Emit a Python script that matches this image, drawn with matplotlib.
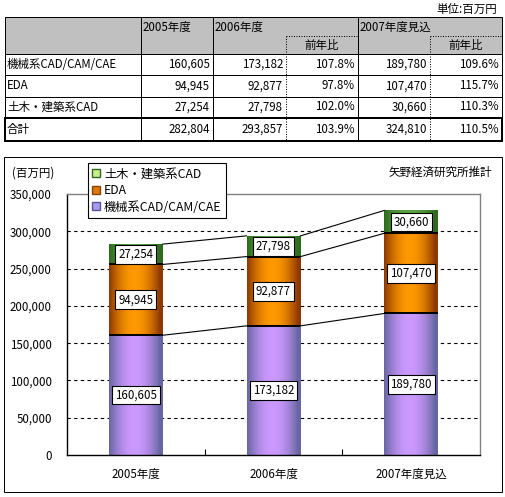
import matplotlib
matplotlib.use("Agg")
import matplotlib.pyplot as plt
from matplotlib.patches import Rectangle, Patch
import numpy as np

plt.rcParams['font.family'] = ['Noto Sans CJK JP', 'DejaVu Sans']

# data
years = ["2005年度", "2006年度", "2007年度見込"]
segments = ["機械系CAD/CAM/CAE", "EDA", "土木・建築系CAD"]
v2005 = [160605, 94945, 27254]
v2006 = [173182, 92877, 27798]
v2007 = [189780, 107470, 30660]
tot = [282804, 293857, 324810]
yoy2006 = ["107.8%", "97.8%", "102.0%", "103.9%"]
yoy2007 = ["109.6%", "115.7%", "110.3%", "110.5%"]

W, H = 506, 497
fig = plt.figure(figsize=(W / 100, H / 100), dpi=100)
fig.patch.set_facecolor("white")

# ---- table (drawn in pixel coords) ----
tax = fig.add_axes([0, 0, 1, 1])
tax.set_xlim(0, W)
tax.set_ylim(H, 0)
tax.axis("off")

cx = [5, 141, 213, 286, 358, 430, 502]
ry = [17, 36, 54, 75, 96.5, 117.5, 141]
fs = 8.3
px = 0.72

tax.add_patch(Rectangle((cx[0], ry[0]), cx[-1] - cx[0], ry[2] - ry[0], fc="#c0c0c0", ec="none"))
tax.add_patch(Rectangle((cx[0], ry[0]), cx[-1] - cx[0], ry[-1] - ry[0], fc="none", ec="black", lw=px))
for y in ry[2:-1]:
    tax.plot([cx[0], cx[-1]], [y, y], color="black", lw=px)
for x in [cx[1], cx[2], cx[4]]:
    tax.plot([x, x], [ry[0], ry[-1]], color="black", lw=px)
for x in [cx[3], cx[5]]:
    tax.plot([x, x], [ry[1], ry[-1]], color="black", lw=px, ls=(0, (1, 1.5)))
tax.plot([cx[3], cx[4]], [ry[1], ry[1]], color="black", lw=px, ls=(0, (1, 1.5)))
tax.plot([cx[5], cx[6]], [ry[1], ry[1]], color="black", lw=px, ls=(0, (1, 1.5)))
tax.add_patch(Rectangle((cx[0], ry[5]), cx[-1] - cx[0], ry[6] - ry[5], fc="none", ec="black", lw=2 * px))

tax.text(497, 9, "単位:百万円", ha="right", va="center", fontsize=fs)
tax.text(cx[1] + 2, 27, years[0], ha="left", va="center", fontsize=fs)
tax.text(cx[2] + 2, 27, years[1], ha="left", va="center", fontsize=fs)
tax.text(cx[4] + 2, 27, years[2], ha="left", va="center", fontsize=fs)
tax.text((cx[3] + cx[4]) / 2, 45, "前年比", ha="center", va="center", fontsize=fs)
tax.text((cx[5] + cx[6]) / 2, 45, "前年比", ha="center", va="center", fontsize=fs)

row_names = segments + ["合計"]
c05 = v2005 + [tot[0]]
c06 = v2006 + [tot[1]]
c07 = v2007 + [tot[2]]
for i in range(4):
    yc = (ry[i + 2] + ry[i + 3]) / 2
    tax.text(cx[0] + 2, yc, row_names[i], ha="left", va="center", fontsize=fs)
    tax.text(cx[2] - 3, yc, f"{c05[i]:,}", ha="right", va="center", fontsize=fs)
    tax.text(cx[3] - 3, yc, f"{c06[i]:,}", ha="right", va="center", fontsize=fs)
    tax.text(cx[4] - 3, yc, yoy2006[i], ha="right", va="center", fontsize=fs)
    tax.text(cx[5] - 3, yc, f"{c07[i]:,}", ha="right", va="center", fontsize=fs)
    tax.text(cx[6] - 3, yc, yoy2007[i], ha="right", va="center", fontsize=fs)

# chart frame
tax.add_patch(Rectangle((4, 157), 498, 335, fc="none", ec="black", lw=px))
tax.text(12, 173, "(百万円)", ha="left", va="center", fontsize=fs)
tax.text(492, 172, "矢野経済研究所推計", ha="right", va="center", fontsize=fs)

# ---- chart ----
ax = fig.add_axes([67 / W, 1 - 455 / H, 413 / W, 261 / H])
x = np.arange(len(years))
bw = 0.392
data = np.array([v2005, v2006, v2007]).T  # rows: segment

edge_cols = [(0.40, 0.40, 0.63), (0.55, 0.22, 0.0), (0.18, 0.42, 0.12)]
mid_cols = [(0.80, 0.60, 1.0), (1.0, 0.60, 0.0), (0.36, 0.64, 0.26)]

t = np.linspace(0, 1, 64)
wgt = np.sin(np.pi * np.clip(t * 1.05, 0, 1)) ** 0.9

bottom = np.zeros(3)
for s in range(3):
    bars = ax.bar(x, data[s], bw, bottom=bottom, color=mid_cols[s], edgecolor="none", zorder=2)
    grad = np.array([[np.array(edge_cols[s]) + (np.array(mid_cols[s]) - np.array(edge_cols[s])) * w for w in wgt]])
    for b in bars:
        im = ax.imshow(grad, extent=[b.get_x(), b.get_x() + b.get_width(), b.get_y(), b.get_y() + b.get_height()],
                       aspect="auto", zorder=2.5, interpolation="bilinear")
        im.set_clip_path(b)
    top = bottom + data[s]
    if s < 2:
        ax.hlines(top, x - bw / 2, x + bw / 2, color="black", lw=1.4, zorder=3)
    for i in range(2):
        ax.plot([x[i] + bw / 2, x[i + 1] - bw / 2], [top[i], top[i + 1]], color="black", lw=0.8, zorder=3)
    for i in range(3):
        ax.text(x[i], bottom[i] + data[s][i] / 2, f"{data[s][i]:,}", ha="center", va="center", fontsize=fs,
                zorder=4, bbox=dict(boxstyle="square,pad=0.25", fc="white", ec="black", lw=0.8))
    bottom = top

ax.set_xlim(-0.5, 2.5)
ax.set_ylim(0, 350000)
ax.set_yticks(np.arange(0, 350001, 50000))
ax.set_yticklabels([f"{v:,}" for v in range(0, 350001, 50000)], fontsize=fs)
ax.set_xticks(x)
ax.set_xticklabels(years, fontsize=fs)
ax.set_xticks([0.5, 1.5], minor=True)
ax.tick_params(axis="x", which="major", length=0, pad=9)
ax.tick_params(axis="x", which="minor", length=4, direction="in", width=0.8)
ax.tick_params(axis="y", length=0, pad=11)
ax.set_axisbelow(True)
ax.yaxis.grid(True, color="black", lw=0.8, ls=(0, (3, 3)))
ax.get_ygridlines()[-1].set_visible(False)
ax.get_ygridlines()[0].set_visible(False)
for sp in ["left", "bottom"]:
    ax.spines[sp].set_color("black")
    ax.spines[sp].set_linewidth(1)
for sp in ["top", "right"]:
    ax.spines[sp].set_color("#808080")
    ax.spines[sp].set_linewidth(1)

handles = [Patch(fc="#ccee88", ec="#336622", lw=1),
           Patch(fc="#dd7711", ec="#884400", lw=1),
           Patch(fc="#aa99ee", ec="#555599", lw=1)]
leg = fig.legend(handles, [segments[2], segments[1], segments[0]], loc="upper left",
                 bbox_to_anchor=(88 / W, 1 - 163 / H), fontsize=8.8, frameon=True, fancybox=False,
                 edgecolor="black", framealpha=1, handlelength=0.65, handleheight=0.65,
                 handletextpad=0.3, labelspacing=0.3, borderpad=0.35, borderaxespad=0)
leg.get_frame().set_linewidth(0.8)

fig.savefig("out.png", dpi=100)
